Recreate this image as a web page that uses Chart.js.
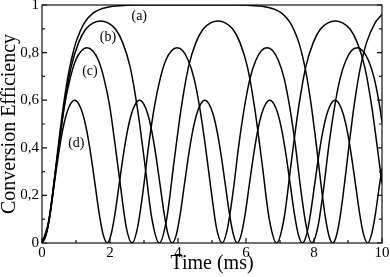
<!DOCTYPE html>
<html>
<head>
<meta charset="utf-8">
<script src="https://cdn.jsdelivr.net/npm/chart.js@4/dist/chart.umd.min.js"></script>
<style>
  html, body { margin: 0; padding: 0; background: #fff; }
  #wrap { width: 390px; height: 277px; }
</style>
</head>
<body>
<div id="wrap"><canvas id="chart"></canvas></div>
<script>
// tick labels
const xTickLabels = ['0', '2', '4', '6', '8', '10'];
const yTickLabels = ['0', '0,2', '0,4', '0,6', '0,8', '1'];
const xMinorTicks = [0, 1, 2, 3, 4, 5, 6, 7, 8, 9, 10];
const yMinorTicks = [0, 0.1, 0.2, 0.3, 0.4, 0.5, 0.6, 0.7, 0.8, 0.9, 1];

// curve (a)
const timeA = [0, 0.1, 0.2, 0.3, 0.4, 0.5, 0.6, 0.7, 0.8, 0.9, 1.0, 1.25, 1.5, 1.75, 2.0, 2.5, 3.0, 3.5, 4.275, 5.05,
  5.55, 6.05, 6.55, 6.8, 7.05, 7.3, 7.55, 7.65, 7.75, 7.85, 7.95, 8.05, 8.15, 8.25, 8.35, 8.45, 8.55, 8.65, 8.75, 8.85,
  8.95, 9.05, 9.15, 9.25, 9.35, 9.45, 9.55, 9.8, 10];
const effA = [0, 0.025, 0.094, 0.195, 0.313, 0.434, 0.547, 0.644, 0.727, 0.792, 0.844, 0.926, 0.966, 0.984, 0.993, 0.9985, 0.9997, 1, 1, 1,
  0.9997, 0.9985, 0.993, 0.984, 0.966, 0.926, 0.844, 0.792, 0.727, 0.644, 0.547, 0.434, 0.313, 0.195, 0.094, 0.025, 0, 0.025, 0.094, 0.195,
  0.313, 0.434, 0.547, 0.644, 0.727, 0.792, 0.844, 0.926, 0.96];

// curve (b)
const timeB = [0, 0.22, 0.43, 0.65, 0.86, 1.08, 1.29, 1.51, 1.73, 1.94, 2.16, 2.37, 2.59, 2.80, 3.02, 3.23,
  3.45, 3.67, 3.88, 4.10, 4.31, 4.53, 4.74, 4.96, 5.18, 5.39, 5.61, 5.82, 6.04, 6.25, 6.47, 6.68,
  6.90, 7.12, 7.33, 7.55, 7.76, 7.98, 8.19, 8.41, 8.63, 8.84, 9.06, 9.27, 9.49, 9.70, 9.92, 10];
const effB = [0, 0.104, 0.338, 0.572, 0.741, 0.843, 0.899, 0.925, 0.933, 0.925, 0.899, 0.843, 0.741, 0.572, 0.338, 0.104,
  0, 0.104, 0.338, 0.572, 0.741, 0.843, 0.899, 0.925, 0.933, 0.925, 0.899, 0.843, 0.741, 0.572, 0.338, 0.104,
  0, 0.104, 0.338, 0.572, 0.741, 0.843, 0.899, 0.925, 0.933, 0.925, 0.899, 0.843, 0.741, 0.572, 0.338, 0.25];

// curve (c)
const timeC = [0, 0.17, 0.33, 0.50, 0.66, 0.83, 0.99, 1.16, 1.32, 1.49, 1.66, 1.82, 1.99, 2.15, 2.32, 2.48,
  2.65, 2.81, 2.98, 3.14, 3.31, 3.48, 3.64, 3.81, 3.97, 4.14, 4.30, 4.47, 4.63, 4.80, 4.97, 5.13,
  5.30, 5.46, 5.63, 5.79, 5.96, 6.12, 6.29, 6.45, 6.62, 6.79, 6.95, 7.12, 7.28, 7.45, 7.61, 7.78,
  7.94, 8.11, 8.28, 8.44, 8.61, 8.77, 8.94, 9.10, 9.27, 9.43, 9.60, 9.77, 9.93, 10];
const effC = [0, 0.065, 0.226, 0.413, 0.576, 0.693, 0.768, 0.808, 0.82, 0.808, 0.768, 0.693, 0.576, 0.413, 0.226, 0.065,
  0, 0.065, 0.226, 0.413, 0.576, 0.693, 0.768, 0.808, 0.82, 0.808, 0.768, 0.693, 0.576, 0.413, 0.226, 0.065,
  0, 0.065, 0.226, 0.413, 0.576, 0.693, 0.768, 0.808, 0.82, 0.808, 0.768, 0.693, 0.576, 0.413, 0.226, 0.065,
  0, 0.065, 0.226, 0.413, 0.576, 0.693, 0.768, 0.808, 0.82, 0.808, 0.768, 0.693, 0.576, 0.507];

// curve (d)
const timeD = [0, 0.12, 0.24, 0.36, 0.48, 0.60, 0.72, 0.84, 0.96, 1.08, 1.20, 1.32, 1.44, 1.56, 1.68, 1.80,
  1.92, 2.03, 2.15, 2.27, 2.39, 2.51, 2.63, 2.75, 2.87, 2.99, 3.11, 3.23, 3.35, 3.47, 3.59, 3.71,
  3.83, 3.95, 4.07, 4.19, 4.31, 4.43, 4.55, 4.67, 4.79, 4.91, 5.03, 5.15, 5.27, 5.39, 5.51, 5.63,
  5.74, 5.86, 5.98, 6.10, 6.22, 6.34, 6.46, 6.58, 6.70, 6.82, 6.94, 7.06, 7.18, 7.30, 7.42, 7.54,
  7.66, 7.78, 7.90, 8.02, 8.14, 8.26, 8.38, 8.50, 8.62, 8.74, 8.86, 8.98, 9.10, 9.22, 9.34, 9.46,
  9.58, 9.69, 9.81, 9.93, 10];
const effD = [0, 0.035, 0.126, 0.247, 0.367, 0.469, 0.542, 0.585, 0.6, 0.585, 0.542, 0.469, 0.367, 0.247, 0.126, 0.035,
  0, 0.035, 0.126, 0.247, 0.367, 0.469, 0.542, 0.585, 0.6, 0.585, 0.542, 0.469, 0.367, 0.247, 0.126, 0.035,
  0, 0.035, 0.126, 0.247, 0.367, 0.469, 0.542, 0.585, 0.6, 0.585, 0.542, 0.469, 0.367, 0.247, 0.126, 0.035,
  0, 0.035, 0.126, 0.247, 0.367, 0.469, 0.542, 0.585, 0.6, 0.585, 0.542, 0.469, 0.367, 0.247, 0.126, 0.035,
  0, 0.035, 0.126, 0.247, 0.367, 0.469, 0.542, 0.585, 0.6, 0.585, 0.542, 0.469, 0.367, 0.247, 0.126, 0.035,
  0, 0.035, 0.126, 0.247, 0.313];

// curve labels, placed in data coordinates
const curveNames = ['(a)', '(b)', '(c)', '(d)'];
const nameTime = [2.86, 1.94, 1.41, 1.01];
const nameEff = [0.954, 0.863, 0.723, 0.42];

const serif = '"Liberation Serif", "Times New Roman", serif';

const toPoints = (ts, vs) => ts.map((t, i) => ({ x: t, y: vs[i] }));

const curve = (label, ts, vs) => ({
    label: label,
    data: toPoints(ts, vs),
    borderColor: '#000',
    borderWidth: 1.5,
    pointRadius: 0,
    fill: false,
    cubicInterpolationMode: 'monotone'
});

// frame, inward ticks and curve names
const frameAndTicks = {
    id: 'frameAndTicks',
    afterDatasetsDraw(chart) {
        const { ctx, chartArea: area, scales: { x, y } } = chart;
        ctx.save();
        ctx.strokeStyle = '#111';
        ctx.lineWidth = 1.2;
        ctx.strokeRect(area.left, area.top, area.right - area.left, area.bottom - area.top);

        ctx.beginPath();
        xMinorTicks.forEach((t, i) => {
            const px = x.getPixelForValue(t);
            const len = i % 2 === 0 ? 5 : 3;
            ctx.moveTo(px, area.bottom);
            ctx.lineTo(px, area.bottom - len);
        });
        yMinorTicks.forEach((v, i) => {
            const py = y.getPixelForValue(v);
            const len = i % 2 === 0 ? 5 : 3;
            ctx.moveTo(area.left, py);
            ctx.lineTo(area.left + len, py);
            ctx.moveTo(area.right, py);
            ctx.lineTo(area.right - len, py);
        });
        ctx.stroke();

        ctx.fillStyle = '#000';
        ctx.font = '14px ' + serif;
        ctx.textAlign = 'center';
        ctx.textBaseline = 'middle';
        curveNames.forEach((name, i) => {
            ctx.fillText(name, x.getPixelForValue(nameTime[i]), y.getPixelForValue(nameEff[i]));
        });
        ctx.restore();
    }
};

const ctx = document.getElementById('chart').getContext('2d');

new Chart(ctx, {
    type: 'line',
    data: {
        datasets: [
            curve('(a)', timeA, effA),
            curve('(b)', timeB, effB),
            curve('(c)', timeC, effC),
            curve('(d)', timeD, effD)
        ]
    },
    options: {
        responsive: true,
        maintainAspectRatio: false,
        animation: false,
        layout: { padding: { left: 0, top: 5, right: 8, bottom: 0 } },
        plugins: {
            legend: { display: false },
            tooltip: { enabled: false }
        },
        scales: {
            x: {
                type: 'linear',
                min: 0,
                max: 10,
                afterFit: (scale) => { scale.height = 34; scale.paddingLeft = 0; scale.paddingRight = 0; },
                grid: { display: false, drawTicks: false },
                border: { display: false },
                ticks: {
                    stepSize: 2,
                    padding: 1,
                    color: '#000',
                    font: { family: serif, size: 15, lineHeight: 1.2 },
                    callback: (v, i) => xTickLabels[i]
                },
                title: {
                    display: true,
                    text: 'Time (ms)',
                    color: '#000',
                    font: { family: serif, size: 20, lineHeight: 1 },
                    padding: { top: 0, bottom: 3 }
                }
            },
            y: {
                min: 0,
                max: 1,
                afterFit: (scale) => { scale.width = 42; scale.paddingTop = 0; scale.paddingBottom = 0; },
                grid: { display: false, drawTicks: false },
                border: { display: false },
                ticks: {
                    stepSize: 0.2,
                    padding: 3,
                    color: '#000',
                    font: { family: serif, size: 15, lineHeight: 1.2 },
                    callback: (v, i) => yTickLabels[i]
                },
                title: {
                    display: true,
                    text: 'Conversion Efficiency',
                    color: '#000',
                    font: { family: serif, size: 20, lineHeight: 1 },
                    padding: { top: 0, bottom: 0 }
                }
            }
        }
    },
    plugins: [frameAndTicks]
});
</script>
</body>
</html>
